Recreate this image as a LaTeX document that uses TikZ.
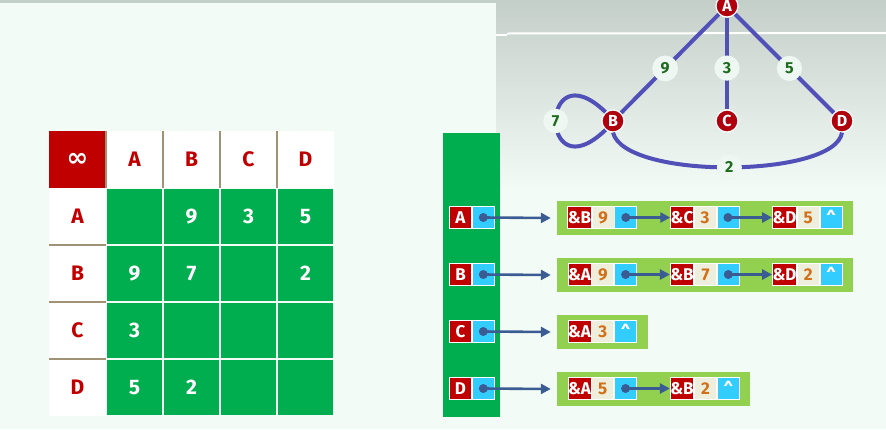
\documentclass[tikz,border=0pt]{standalone}
\usepackage{fontspec}
\setmainfont{Fira Sans}
\newfontfamily\symfont{DejaVu Sans}
\usetikzlibrary{positioning,arrows.meta}
\definecolor{mint}{HTML}{F3FBF6}
\definecolor{haze}{HTML}{C5CFC9}
\definecolor{tgreen}{HTML}{00AE50}
\definecolor{lgreen}{HTML}{92D050}
\definecolor{dred}{HTML}{C00000}
\definecolor{nred}{HTML}{B0000E}
\definecolor{sky}{HTML}{33CCFF}
\definecolor{beige}{HTML}{EEEEDD}
\definecolor{ochre}{HTML}{D0701A}
\definecolor{edgeblue}{HTML}{5050B8}
\definecolor{ptrblue}{HTML}{3A5C92}
\definecolor{wgreen}{HTML}{1E6B1E}
\definecolor{rulebrown}{HTML}{A09274}

\begin{document}
\begin{tikzpicture}[x=1pt, y=-1pt]
  \tikzstyle{hdr} = [rectangle, fill=white, text=dred, minimum size=57pt, inner sep=0pt, font=\bfseries\fontsize{21}{21}\selectfont]
  \tikzstyle{cell} = [rectangle, fill=tgreen, text=white, minimum size=55pt, inner sep=0pt, font=\bfseries\fontsize{21}{21}\selectfont]
  \tikzstyle{vertex} = [circle, fill=nred, draw=white, line width=1.2pt, text=white, minimum size=22pt, inner sep=0pt, font=\bfseries\fontsize{16}{16}\selectfont]
  \tikzstyle{weight} = [circle, fill=mint!92!haze, text=wgreen, inner sep=4pt, font=\bfseries\fontsize{16}{16}\selectfont]
  \tikzstyle{edge} = [edgeblue, line width=4pt]
  \tikzstyle{key} = [rectangle, fill=dred, draw=white, line width=0.8pt, text=white, minimum width=22pt, minimum height=22pt, inner sep=0pt, font=\bfseries\fontsize{17}{17}\selectfont]
  \tikzstyle{val} = [key, fill=beige, text=ochre]
  \tikzstyle{link} = [key, fill=sky]
  \tikzstyle{bucket} = [rectangle, fill=lgreen, minimum height=34pt, inner sep=0pt]
  \tikzstyle{ptr} = [ptrblue, line width=2.6pt, -{Triangle[length=10pt,width=10pt]}]

  \useasboundingbox (0,0) rectangle (886,429);
  \fill[mint] (0,0) rectangle (886,429);
  \shade[top color=haze, middle color=mint!55!haze, bottom color=mint] (496,0) rectangle (886,190);
  \fill[haze] (0,0) rectangle (496,3);
  \draw[white, line width=2pt] (496,35) -- (507,35);
  \draw[white, line width=2pt] (507,33.5) -- (886,33);

  \node [hdr, fill=dred, text=white] (inf) at (77.5,159.5) {\symfont\fontsize{26}{26}\selectfont ∞};
  \foreach \n [count=\i] in {A,B,C,D} {
    \node [hdr] (col\n) at (77.5+57*\i,159.5) {\n};
    \node [hdr] (row\n) at (77.5,159.5+57*\i) {\n};
  }
  \foreach \vals [count=\j] in {{{},9,3,5},{9,7,{},2},{3,{},{},{}},{5,2,{},{}}}
    \foreach \v [count=\i] in \vals
      \node [cell] (m\j\i) at (77.5+57*\i,159.5+57*\j) {\v};
  \foreach \n in {A,B,C,D} \draw[rulebrown, line width=1.5pt] (col\n.north west) -- (col\n.south west);
  \foreach \n in {B,C,D} \draw[rulebrown, line width=1.5pt] (row\n.north west) -- (row\n.north east);

  \node [rectangle, fill=tgreen, minimum width=57pt, minimum height=284pt, inner sep=0pt] (arr) at (471.5,275) {};
  \foreach \r/\y/\w in {A/218/296, B/275/296, C/332/91, D/389/193} {
    \node [key] (s\r) at (460.5,\y-0.5) {\r};
    \node [link, right=0pt of s\r] (p\r) {};
    \node [bucket, minimum width=\w pt] (l\r) at ({557+\w/2},\y) {};
    \draw[ptr] (p\r.center) -- ([xshift=-6pt]l\r.west);
    \fill[ptrblue] (p\r.center) circle (4.5pt);
  }
  \foreach \r/\y/\k/\n/\v/\t in {A/217.5/1/B/9/, A/217.5/2/C/3/, A/217.5/3/D/5/\textasciicircum,
      B/274.5/1/A/9/, B/274.5/2/B/7/, B/274.5/3/D/2/\textasciicircum,
      C/331.5/1/A/3/\textasciicircum, D/388.5/1/A/5/, D/388.5/2/B/2/\textasciicircum} {
    \node [key] (k\r\k) at (579.5+102.5*\k-102.5,\y) {\&\n};
    \node [val, right=0pt of k\r\k] (v\r\k) {\v};
    \node [link, right=0pt of v\r\k] (n\r\k) {\t};
  }
  \foreach \a/\b in {nA1/kA2, nA2/kA3, nB1/kB2, nB2/kB3, nD1/kD2} {
    \draw[ptr] (\a.center) -- (\b.west);
    \fill[ptrblue] (\a.center) circle (4.5pt);
  }

  \node [vertex] (A) at (727,6) {A};
  \node [vertex] (B) at (613,121) {B};
  \node [vertex] (C) at (727,121) {C};
  \node [vertex] (D) at (842,121) {D};
  \draw[edge] (A) -- node[weight, pos=0.55] {9} (B);
  \draw[edge] (A) -- node[weight, pos=0.55] {3} (C);
  \draw[edge] (A) -- node[weight, pos=0.55] {5} (D);
  \draw[edge] (B.130) .. controls (539,48) and (539,194) .. node[weight] {7} (B.230);
  \draw[edge] (B.south) .. controls (625,180) and (835,178) .. node[weight] {2} (D.south);
\end{tikzpicture}
\end{document}
